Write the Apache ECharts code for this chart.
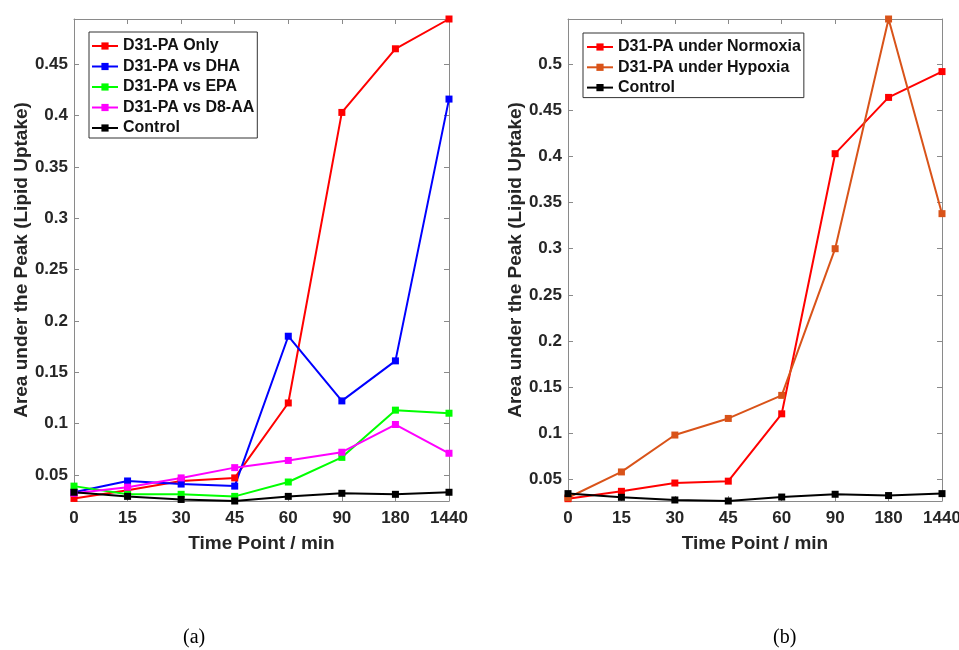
<!DOCTYPE html>
<html>
<head>
<meta charset="utf-8">
<script src="https://cdn.jsdelivr.net/npm/echarts@6/dist/echarts.min.js"></script>
<style>
html,body{margin:0;padding:0;background:#fff;}
#chart{width:959px;height:650px;}
</style>
</head>
<body>
<div id="chart"></div>
<script>
// ---- data ----
var categories = ['0', '15', '30', '45', '60', '90', '180', '1440'];

// panel (a)
var paOnly  = [0.027, 0.035, 0.044, 0.047, 0.120, 0.403, 0.465, 0.494];
var paDHA   = [0.033, 0.044, 0.041, 0.039, 0.185, 0.122, 0.161, 0.416];
var paEPA   = [0.039, 0.031, 0.031, 0.029, 0.043, 0.067, 0.113, 0.110];
var paD8AA  = [0.032, 0.038, 0.047, 0.057, 0.064, 0.072, 0.099, 0.071];
var controlA = [0.033, 0.029, 0.026, 0.0245, 0.029, 0.032, 0.031, 0.033];

// panel (b)
var normoxia = [0.029, 0.037, 0.046, 0.048, 0.121, 0.403, 0.464, 0.492];
var hypoxia  = [0.030, 0.058, 0.098, 0.116, 0.141, 0.300, 0.549, 0.338];
var controlB = [0.0345, 0.0305, 0.0276, 0.0265, 0.0308, 0.0338, 0.0324, 0.0345];

var seriesA = [
  {name: 'D31-PA Only', data: paOnly, color: '#FF0000'},
  {name: 'D31-PA vs DHA', data: paDHA, color: '#0000FF'},
  {name: 'D31-PA vs EPA', data: paEPA, color: '#00FF00'},
  {name: 'D31-PA vs D8-AA', data: paD8AA, color: '#FF00FF'},
  {name: 'Control', data: controlA, color: '#000000'}
];
var seriesB = [
  {name: 'D31-PA under Normoxia', data: normoxia, color: '#FF0000'},
  {name: 'D31-PA under Hypoxia', data: hypoxia, color: '#D95319'},
  {name: 'Control ', data: controlB, color: '#000000'}
];

function extent(list) {
  var all = [];
  list.forEach(function (s) { all = all.concat(s.data); });
  return [Math.min.apply(null, all), Math.max.apply(null, all)];
}
var extA = extent(seriesA);
var extB = extent(seriesB);

var AXIS_COLOR = '#8a8a8a';
var TEXT_COLOR = '#262626';
var FONT = 'Liberation Sans, Arial, sans-serif';

function xAxisPair(gridIndex) {
  return [
    {
      type: 'category', gridIndex: gridIndex, data: categories, boundaryGap: false,
      position: 'bottom',
      axisLine: {show: true, lineStyle: {color: AXIS_COLOR, width: 1}},
      axisTick: {show: true, inside: true, length: 5, lineStyle: {color: AXIS_COLOR}},
      axisLabel: {color: TEXT_COLOR, fontWeight: 'bold', fontSize: 17, fontFamily: FONT, margin: 9},
      splitLine: {show: false},
      name: 'Time Point / min', nameLocation: 'middle', nameGap: 33,
      nameTextStyle: {color: TEXT_COLOR, fontWeight: 'bold', fontSize: 19, fontFamily: FONT}
    },
    {
      type: 'category', gridIndex: gridIndex, data: categories, boundaryGap: false,
      position: 'top',
      axisLine: {show: true, lineStyle: {color: AXIS_COLOR, width: 1}},
      axisTick: {show: true, inside: true, length: 5, lineStyle: {color: AXIS_COLOR}},
      axisLabel: {show: false},
      splitLine: {show: false}
    }
  ];
}

function yAxisPair(gridIndex, ext, gap) {
  var common = {
    type: 'value', gridIndex: gridIndex, min: ext[0], max: ext[1],
    splitNumber: 10, minInterval: 0.05, maxInterval: 0.05,
    axisLine: {show: true, lineStyle: {color: AXIS_COLOR, width: 1}},
    axisTick: {show: true, inside: true, length: 5, lineStyle: {color: AXIS_COLOR}},
    splitLine: {show: false}
  };
  var left = Object.assign({}, common, {
    position: 'left',
    axisLabel: {
      color: TEXT_COLOR, fontWeight: 'bold', fontSize: 17, fontFamily: FONT, margin: 6,
      showMinLabel: false, showMaxLabel: false,
      formatter: function (v) { return String(+v.toFixed(3)); }
    },
    name: 'Area under the Peak (Lipid Uptake)', nameLocation: 'middle', nameGap: gap,
    nameTextStyle: {color: TEXT_COLOR, fontWeight: 'bold', fontSize: 19, fontFamily: FONT}
  });
  var right = Object.assign({}, common, {
    position: 'right',
    axisLabel: {show: false}
  });
  return [left, right];
}

function buildSeries(list, xIdx, yIdx) {
  return list.map(function (s) {
    return {
      name: s.name, type: 'line', data: s.data,
      xAxisIndex: xIdx, yAxisIndex: yIdx,
      symbol: 'rect', symbolSize: 7, showSymbol: true,
      clip: false,
      color: s.color,
      lineStyle: {color: s.color, width: 2},
      itemStyle: {color: s.color},
      emphasis: {disabled: true}
    };
  });
}

function legendCfg(list, left, top, padding, gap) {
  return {
    data: list.map(function (s) { return s.name; }),
    orient: 'vertical', left: left, top: top,
    itemWidth: 26, itemHeight: 9, itemGap: gap,
    padding: padding,
    backgroundColor: '#fff', borderColor: '#333', borderWidth: 1, borderRadius: 0,
    selectedMode: false,
    textStyle: {color: '#111', fontWeight: 'bold', fontSize: 16, fontFamily: FONT, lineHeight: 20}
  };
}

var chart = echarts.init(document.getElementById('chart'), null, {renderer: 'canvas'});
chart.setOption({
  animation: false,
  backgroundColor: '#fff',
  grid: [
    {left: 74, top: 19, width: 375, height: 482, containLabel: false, outerBoundsMode: 'none'},
    {left: 568, top: 19, width: 374, height: 482, containLabel: false, outerBoundsMode: 'none'}
  ],
  xAxis: xAxisPair(0).concat(xAxisPair(1)),
  yAxis: yAxisPair(0, extA, 43).concat(yAxisPair(1, extB, 43)),
  legend: [
    legendCfg(seriesA, 89, 32, [4, 3, 0, 2], 0.5),
    legendCfg(seriesB, 583, 33, [4, 3, 0, 3], 0.3)
  ],
  tooltip: {show: false},
  series: buildSeries(seriesA, 0, 0).concat(buildSeries(seriesB, 2, 2)),
  graphic: [
    {type: 'text', left: 183, top: 628, style: {text: '(a)', font: '20px "Liberation Serif", serif', fill: '#000'}},
    {type: 'text', left: 773, top: 628, style: {text: '(b)', font: '20px "Liberation Serif", serif', fill: '#000'}}
  ]
});
</script>
</body>
</html>
